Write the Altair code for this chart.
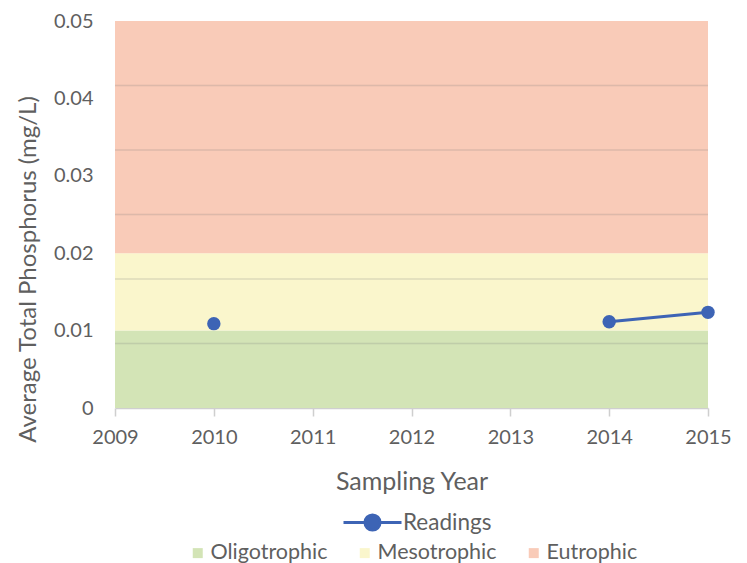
import altair as alt
import pandas as pd

# ---- data ----
years = [2010, 2011, 2012, 2013, 2014, 2015]
readings = [0.0109, None, None, None, 0.01115, 0.01236]

band_names = ["Oligotrophic", "Mesotrophic", "Eutrophic"]
band_low = [0.0, 0.01, 0.02]
band_high = [0.01, 0.02, 0.05]
band_colors = ["#d3e4b6", "#faf6cc", "#f9cbb8"]

grid_values = [0.00833, 0.01667, 0.025, 0.03333, 0.04167]
y_ticks = [0, 0.01, 0.02, 0.03, 0.04, 0.05]
x_ticks = [2009, 2010, 2011, 2012, 2013, 2014, 2015]

W, H = 593, 387
FONT = "Lato"
TEXT = "#5f5f5f"
BLUE = "#3d64b5"

readings_df = pd.DataFrame({"Year": years, "Value": readings, "Series": ["Readings"] * len(years)})
bands_df = pd.DataFrame({"Band": band_names, "Low": band_low, "High": band_high})
grid_df = pd.DataFrame({"g": grid_values})

x_scale = alt.Scale(domain=[2009, 2015], nice=False, zero=False)
y_scale = alt.Scale(domain=[0, 0.05], nice=False)

Y_TITLE = "Average Total Phosphorus (mg/L)"
X_TITLE = "Sampling Year"

y_axis = alt.Axis(values=y_ticks, format="~g", grid=False, ticks=False, domain=False,
                  labelPadding=22, labelFontSize=20, labelFlush=False, labelOverlap=False,
                  title=Y_TITLE, titleFontSize=24,
                  titleAngle=270, titleAlign="center", titleBaseline="middle",
                  titleX=-87, titleY=248)
x_axis = alt.Axis(values=x_ticks, format="d", grid=False, tickSize=8,
                  tickColor="#cfcfcf", domainColor="#cfcfcf", domainWidth=1.5, tickWidth=1.5,
                  labelPadding=11, labelFontSize=20, labelFlush=False, labelOverlap=False,
                  title=X_TITLE, titleFontSize=25, titleBaseline="middle", titleY=73)

bands = alt.Chart(bands_df).mark_rect().encode(
    x=alt.value(0), x2=alt.value(W),
    y=alt.Y("Low:Q", scale=y_scale, axis=y_axis, title=Y_TITLE),
    y2="High:Q",
    fill=alt.Fill("Band:N", scale=alt.Scale(domain=band_names, range=band_colors),
                  legend=alt.Legend(orient="none", legendX=72, legendY=521, direction="horizontal",
                                    title=None, symbolType="square", symbolSize=100,
                                    symbolStrokeWidth=0, columnPadding=26, labelOffset=2,
                                    labelFontSize=21.5)),
)

grid = alt.Chart(grid_df).mark_rule(color="#7a7a7a", opacity=0.22, strokeWidth=1.5).encode(
    y=alt.Y("g:Q", scale=y_scale, axis=y_axis, title=Y_TITLE),
)

legend_path = ("M-1,0L-0.26,0M0.26,0L1,0"
               "M-0.26,0A0.26,0.26 0 1,1 0.26,0A0.26,0.26 0 1,1 -0.26,0Z")

line = alt.Chart(readings_df).mark_line(strokeWidth=3,
                                        invalid="break-paths-filter-domains").encode(
    x=alt.X("Year:Q", scale=x_scale, axis=x_axis, title=X_TITLE),
    y=alt.Y("Value:Q", scale=y_scale, axis=y_axis, title=Y_TITLE),
    stroke=alt.Stroke("Series:N", scale=alt.Scale(domain=["Readings"], range=[BLUE]),
                      legend=alt.Legend(orient="none", legendX=227, legendY=471, title=None,
                                        symbolType=legend_path, symbolSize=3364,
                                        symbolStrokeWidth=3, symbolFillColor=BLUE,
                                        labelOffset=0, labelFontSize=22.5)),
)

points = alt.Chart(readings_df).mark_point(filled=True, size=180, color=BLUE, opacity=1).encode(
    x=alt.X("Year:Q", scale=x_scale, axis=x_axis, title=X_TITLE),
    y=alt.Y("Value:Q", scale=y_scale, axis=y_axis, title=Y_TITLE),
)

chart = alt.layer(bands, grid, line, points).properties(
    width=W, height=H,
    autosize=alt.AutoSizeParams(type="none"),
    padding={"left": 107, "top": 13, "right": 31, "bottom": 157},
).configure_view(stroke=None).configure_axis(
    labelFont=FONT, titleFont=FONT, labelColor=TEXT, titleColor=TEXT, titleFontWeight="normal",
).configure_legend(
    labelFont=FONT, labelColor=TEXT,
)

chart.save("out.html", embed_options={"renderer": "svg", "actions": False})
